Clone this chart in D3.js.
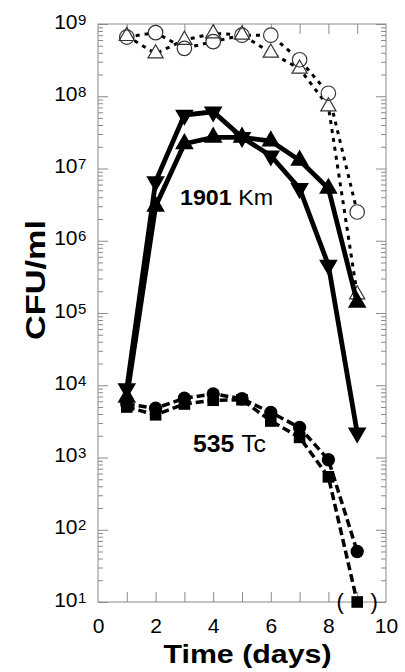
<!DOCTYPE html>
<html><head><meta charset="utf-8">
<script src="https://cdn.jsdelivr.net/npm/d3@7"></script>
<style>body{margin:0;background:#fff}svg{display:block}</style>
</head><body>
<svg id="c" width="405" height="672"></svg>
<script>
// ---- data ----
const days = [1, 2, 3, 4, 5, 6, 7, 8, 9];
// 1901 Km (solid lines)
const kmDown = [9.0e3, 6.6e6, 5.5e7, 6.1e7, 2.7e7, 1.5e7, 5.3e6, 4.6e5, 2.2e3];
const kmUp   = [6.8e3, 3.0e6, 2.2e7, 2.7e7, 2.7e7, 2.4e7, 1.3e7, 5.3e6, 1.4e5];
// total counts (dotted lines, open symbols)
const totCircle   = [6.6e8, 7.6e8, 4.6e8, 5.7e8, 7.0e8, 7.0e8, 3.2e8, 1.1e8, 2.5e6];
const totTriangle = [6.8e8, 3.9e8, 6.0e8, 7.4e8, 7.1e8, 4.0e8, 2.4e8, 7.2e7, 1.8e5];
// 535 Tc (dashed lines)
const tcCircle = [5.5e3, 4.8e3, 6.6e3, 7.6e3, 6.5e3, 4.2e3, 2.6e3, 930, 50];
const tcSquare = [5.0e3, 3.9e3, 5.5e3, 6.2e3, 6.3e3, 3.2e3, 1.9e3, 540, 10];

const xTickLabels = [0, 2, 4, 6, 8, 10];
const xMinorTicks = [1, 2, 3, 4, 5, 6, 7, 8, 9];
const yExponents = [1, 2, 3, 4, 5, 6, 7, 8, 9];
const labelKm = ["1901", "Km"];
const labelTc = ["535", "Tc"];
const xTitle = "Time (days)";
const yTitle = "CFU/ml";

// ---- layout ----
const svg = d3.select("#c");
const L = 98, R = 386, T = 24, B = 602;
const x = d3.scaleLinear().domain([0, 10]).range([L, R]);
const y = d3.scaleLog().domain([10, 1e9]).range([B, T]);
const FONT = "'Liberation Sans', Arial, Helvetica, sans-serif";
const frameCol = "#8a8a8a";

const decades = yExponents.map(e => Math.pow(10, e));
const minors = [];
for (let e = 1; e < 9; e++) for (let m = 2; m <= 9; m++) minors.push(m * Math.pow(10, e));

function styleAxis(g) {
  g.select(".domain").remove();
  g.selectAll("line").attr("stroke", frameCol).attr("stroke-width", 1);
}
// x ticks (bottom & top, inward)
svg.append("g").attr("transform", `translate(0,${B})`)
  .call(d3.axisBottom(x).tickValues(xMinorTicks).tickSize(-10).tickFormat("")).call(styleAxis);
svg.append("g").attr("transform", `translate(0,${T})`)
  .call(d3.axisTop(x).tickValues(xMinorTicks).tickSize(-10).tickFormat("")).call(styleAxis);
// y ticks (left & right, inward)
svg.append("g").attr("transform", `translate(${L},0)`)
  .call(d3.axisLeft(y).tickValues(decades).tickSize(-10).tickFormat("")).call(styleAxis);
svg.append("g").attr("transform", `translate(${L},0)`)
  .call(d3.axisLeft(y).tickValues(minors).tickSize(-5).tickFormat("")).call(styleAxis);
svg.append("g").attr("transform", `translate(${R},0)`)
  .call(d3.axisRight(y).tickValues(decades).tickSize(-10).tickFormat("")).call(styleAxis);
svg.append("g").attr("transform", `translate(${R},0)`)
  .call(d3.axisRight(y).tickValues(minors).tickSize(-5).tickFormat("")).call(styleAxis);

// frame
svg.append("rect").attr("x", L).attr("y", T).attr("width", R - L).attr("height", B - T)
  .attr("fill", "none").attr("stroke", frameCol).attr("stroke-width", 1);

// x labels
const xl = svg.append("g").attr("transform", `translate(0,${B})`)
  .call(d3.axisBottom(x).tickValues(xTickLabels).tickSize(0).tickPadding(16).tickFormat(d3.format("d")));
xl.select(".domain").remove();
xl.selectAll("text").attr("font-family", FONT).attr("font-size", 21).attr("fill", "#000");

// y labels 10^n
const yl = svg.append("g");
yExponents.forEach(e => {
  const v = Math.pow(10, e);
  yl.append("text").attr("x", 77.5).attr("y", y(v) + 4.5).attr("text-anchor", "end")
    .attr("font-family", FONT).attr("font-size", 21).text("10");
  yl.append("text").attr("x", 78).attr("y", y(v) + 0.5).attr("text-anchor", "start")
    .attr("font-family", FONT).attr("font-size", 15).text(String(e));
});

// titles
svg.append("text").attr("x", 247.5).attr("y", 663).attr("text-anchor", "middle")
  .attr("font-family", FONT).attr("font-size", 25).attr("font-weight", "bold")
  .attr("textLength", 168).attr("lengthAdjust", "spacingAndGlyphs").text(xTitle);
svg.append("text").attr("transform", "translate(45,280) rotate(-90)").attr("text-anchor", "middle")
  .attr("font-family", FONT).attr("font-size", 28).attr("font-weight", "bold")
  .attr("textLength", 120).attr("lengthAdjust", "spacingAndGlyphs").text(yTitle);

// ---- series ----
const line = d3.line().x(d => x(d[0])).y(d => y(d[1]));
const pts = arr => days.map((d, i) => [d, arr[i]]);

function drawLine(arr, width, dash) {
  svg.append("path").datum(pts(arr)).attr("d", line).attr("fill", "none")
    .attr("stroke", "#000").attr("stroke-width", width)
    .attr("stroke-dasharray", dash || null).attr("stroke-linejoin", "miter");
}
function drawMarks(arr, type, size, mode, rot) {
  // mode: "filled" | "white" (background only) | "outline"
  svg.append("g").selectAll("path").data(pts(arr)).join("path")
    .attr("d", d3.symbol().type(type).size(size))
    .attr("transform", d => `translate(${x(d[0])},${y(d[1])})` + (rot ? " rotate(180)" : ""))
    .attr("fill", mode === "filled" ? "#000" : mode === "white" ? "#fff" : "none")
    .attr("stroke", mode === "outline" ? "#333" : "none").attr("stroke-width", 1.2);
}

// total counts (dotted)
drawLine(totCircle, 3, "4,5");
drawLine(totTriangle, 3, "4,5");
drawMarks(totCircle, d3.symbolCircle, 165, "white");
drawMarks(totTriangle, d3.symbolTriangle, 100, "white");
drawMarks(totCircle, d3.symbolCircle, 165, "outline");
drawMarks(totTriangle, d3.symbolTriangle, 100, "outline");

// 1901 Km (solid)
drawLine(kmDown, 4.8);
drawLine(kmUp, 4.8);
drawMarks(kmDown, d3.symbolTriangle, 150, "filled", true);
drawMarks(kmUp, d3.symbolTriangle, 150, "filled");

// 535 Tc (dashed)
drawLine(tcCircle, 3.5, "8,4");
drawLine(tcSquare, 3.5, "8,4");
drawMarks(tcCircle, d3.symbolCircle, 140, "filled");
drawMarks(tcSquare, d3.symbolSquare, 135, "filled");

// parentheses around the detection-limit point
const lastX = x(days[days.length - 1]), lastY = y(tcSquare[tcSquare.length - 1]);
svg.append("text").attr("x", lastX - 17).attr("y", lastY + 7).attr("text-anchor", "middle")
  .attr("font-family", FONT).attr("font-size", 22).text("(");
svg.append("text").attr("x", lastX + 17).attr("y", lastY + 7).attr("text-anchor", "middle")
  .attr("font-family", FONT).attr("font-size", 22).text(")");

// series labels
function label(parts, xx, yy, size, len) {
  const t = svg.append("text").attr("x", xx).attr("y", yy).attr("font-family", FONT)
    .attr("font-size", size).attr("textLength", len).attr("lengthAdjust", "spacingAndGlyphs");
  t.append("tspan").attr("font-weight", "bold").text(parts[0] + " ");
  t.append("tspan").text(parts[1]);
}
label(labelKm, 180, 205, 22, 93);
label(labelTc, 193, 452, 24, 73);
</script>
</body></html>
